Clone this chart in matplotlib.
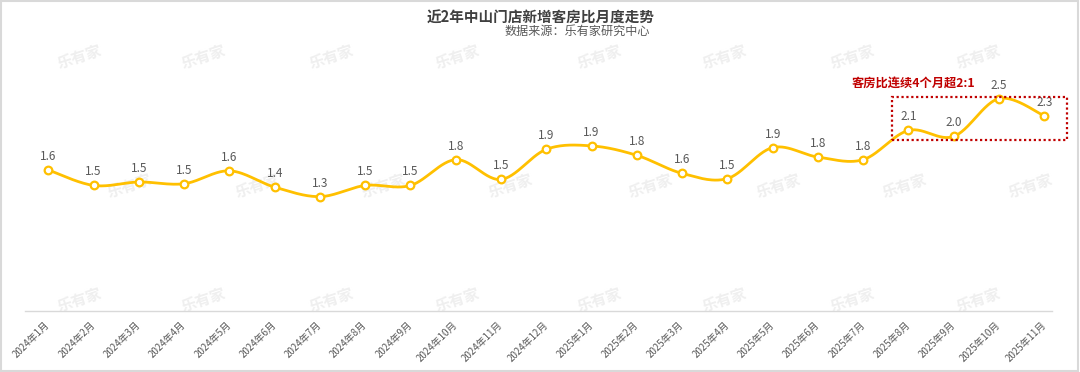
import numpy as np
import matplotlib.pyplot as plt
from matplotlib.patches import Rectangle

plt.rcParams['font.family'] = ['Noto Sans CJK SC', 'DejaVu Sans']

# 数据
months = ['2024年1月', '2024年2月', '2024年3月', '2024年4月', '2024年5月', '2024年6月',
          '2024年7月', '2024年8月', '2024年9月', '2024年10月', '2024年11月', '2024年12月',
          '2025年1月', '2025年2月', '2025年3月', '2025年4月', '2025年5月', '2025年6月',
          '2025年7月', '2025年8月', '2025年9月', '2025年10月', '2025年11月']
ratio = [1.64, 1.46, 1.50, 1.48, 1.63, 1.44, 1.33, 1.46, 1.46, 1.76, 1.53, 1.88,
         1.92, 1.81, 1.60, 1.54, 1.90, 1.79, 1.76, 2.10, 2.03, 2.47, 2.27]
highlight_start = 19   # 2025年8月起连续超2:1

TITLE = "近2年中山门店新增客房比月度走势"
SUBTITLE = "数据来源：乐有家研究中心"
NOTE = "客房比连续4个月超2:1"

LINE_COLOR = "#FFC000"
RED = "#C00000"


def smooth_curve(x, y, n=30):
    """类似Excel平滑线的三次贝塞尔插值"""
    x = np.asarray(x, float)
    y = np.asarray(y, float)
    px = np.concatenate([[x[0]], x, [x[-1]]])
    py = np.concatenate([[y[0]], y, [y[-1]]])
    t = np.linspace(0, 1, n)[:, None]
    xs, ys = [], []
    for i in range(len(x) - 1):
        p0 = np.array([px[i + 1], py[i + 1]])
        p3 = np.array([px[i + 2], py[i + 2]])
        c1 = p0 + (p3 - np.array([px[i], py[i]])) / 6
        c2 = p3 - (np.array([px[i + 3], py[i + 3]]) - p0) / 6
        b = ((1 - t) ** 3) * p0 + 3 * ((1 - t) ** 2) * t * c1 + 3 * (1 - t) * t ** 2 * c2 + t ** 3 * p3
        xs.append(b[:, 0])
        ys.append(b[:, 1])
    return np.concatenate(xs), np.concatenate(ys)


fig = plt.figure(figsize=(10.8, 3.72), dpi=100)
ax = fig.add_axes([25 / 1080, 61 / 372, 1027 / 1080, 258 / 372])
ax.patch.set_visible(False)

x = np.arange(len(months))
sx, sy = smooth_curve(x, ratio)
ax.plot(sx, sy, color=LINE_COLOR, lw=2.0, zorder=3, solid_capstyle='round')
ax.plot(x, ratio, 'o', ms=5.5, mfc='white', mec=LINE_COLOR, mew=1.6, zorder=4)

for xi, v in zip(x, ratio):
    ax.annotate(f"{v:.1f}", (xi, v), xytext=(0, 5), textcoords='offset points',
                ha='center', va='bottom', fontsize=8.5, color='#595959', zorder=5)

# 高亮框
hl = ratio[highlight_start:]
left = highlight_start - 0.37
right = len(months) - 1 + 0.5
bottom = min(hl) - 0.04
top = max(hl) + 0.02
ax.add_patch(Rectangle((left, bottom), right - left, top - bottom, fill=False,
                       edgecolor=RED, lw=1.6, linestyle=(0, (1, 1.2)), zorder=6,
                       clip_on=False))
ax.annotate(NOTE, (left + 0.47, top), xytext=(0, 5), textcoords='offset points',
            ha='center', va='bottom', fontsize=8.8, fontweight='bold', color=RED)

ax.set_xlim(-0.515, 22.17)
ax.set_ylim(0, 3.0)
ax.set_xticks(x)
ax.set_xticklabels(months, rotation=45, ha='right', va='center', rotation_mode='anchor',
                   fontsize=7, color='#595959')
ax.tick_params(axis='x', length=0, pad=9)
ax.set_yticks([])
for s in ['left', 'right', 'top']:
    ax.spines[s].set_visible(False)
ax.spines['bottom'].set_color('#d9d9d9')
ax.spines['bottom'].set_linewidth(1.0)

fig.text(541 / 1080, 1 - 17.5 / 372, TITLE, ha='center', va='center',
         fontsize=10.5, fontweight='bold', color='#404040')
fig.text(650 / 1080, 1 - 31.5 / 372, SUBTITLE, ha='right', va='center',
         fontsize=8.7, color='#595959')

# 水印
wm_cols_a = [79, 203, 331, 457, 599, 724, 852, 978]
wm_cols_b = [129, 257, 383, 510, 650, 778, 904, 1030]
for row_y, cols in [(57, wm_cols_a), (186, wm_cols_b), (300, wm_cols_a)]:
    for cx in cols:
        fig.text(cx / 1080, 1 - row_y / 372, "乐有家", ha='center', va='center',
                 fontsize=11, fontweight='bold', color='#efefef', rotation=18, zorder=-1)

fig.patches.append(Rectangle((0.001, 0.003), 0.997, 0.994, transform=fig.transFigure,
                             fill=False, edgecolor='#d9d9d9', lw=1.5))

fig.savefig("out.png", dpi=100)
